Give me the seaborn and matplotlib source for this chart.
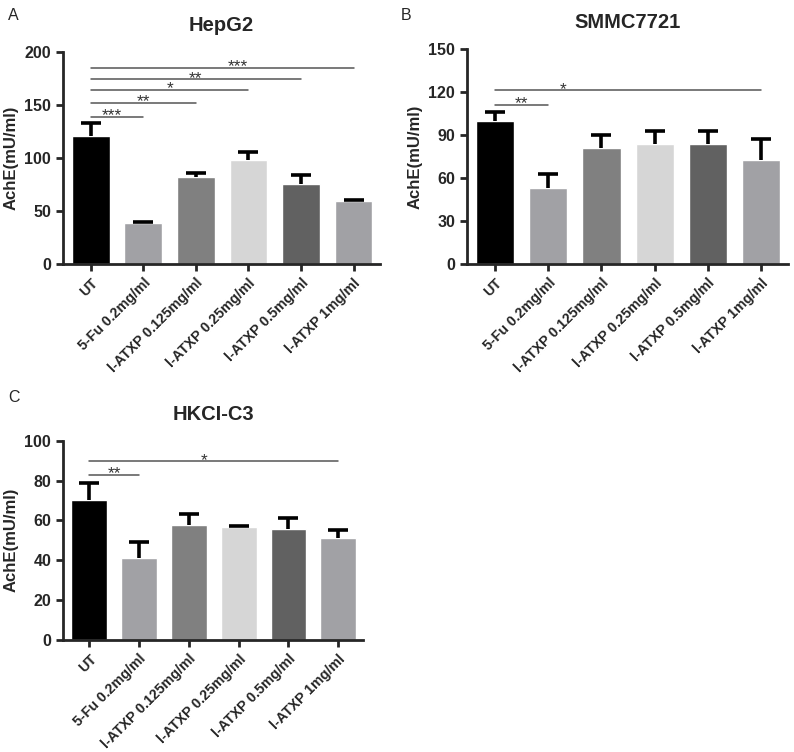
import seaborn as sns
import matplotlib.pyplot as plt
import numpy as np
import pandas as pd

groups = ["UT", "5-Fu 0.2mg/ml", "l-ATXP 0.125mg/ml", "l-ATXP 0.25mg/ml",
          "l-ATXP 0.5mg/ml", "l-ATXP 1mg/ml"]
bar_colors = ["#000000", "#a1a1a5", "#808080", "#d6d6d6", "#616161", "#a1a1a5"]

# HepG2
hepg2_mean = [121, 39, 82, 98, 75, 59.5]
hepg2_err = [12, 1, 3.5, 8, 9, 0.5]
hepg2_sig = [(0, 5, 185, "***", 2.8), (0, 4, 174, "**", 2.0), (0, 3, 164, "*", 1.5),
             (0, 2, 152, "**", 1.0), (0, 1, 139, "***", 0.4)]

# SMMC7721
smmc_mean = [100, 53, 81, 83.5, 84, 72.5]
smmc_err = [6, 10, 9, 9.5, 9, 14.5]
smmc_sig = [(0, 5, 121, "*", 1.27), (0, 1, 111, "**", 0.5)]

# HKCI-C3
hkci_mean = [70, 41, 57.5, 56.5, 55.5, 51]
hkci_err = [9, 8, 5.5, 0.5, 5.5, 4]
hkci_sig = [(0, 5, 89.6, "*", 2.3), (0, 1, 83, "**", 0.5)]

sns.set_style("ticks")
plt.rcParams['font.family'] = ['Liberation Sans', 'DejaVu Sans']


def panel(ax, title, means, errs, sig, ymax, ystep):
    df = pd.DataFrame({"group": groups, "value": means})
    sns.barplot(data=df, x="group", y="value", hue="group", palette=bar_colors,
                saturation=1, width=0.72, legend=False, ax=ax, zorder=2)
    x = np.arange(len(groups))
    eb = ax.errorbar(x, means, yerr=[np.zeros(len(means)), errs], fmt="none",
                     ecolor="black", elinewidth=2.6, capsize=7.5, capthick=2.6, zorder=3)
    # only the upper cap is drawn
    for cap in eb[1]:
        if np.allclose(cap.get_ydata(), means):
            cap.set_visible(False)
    for x1, x2, y, stars, tx in sig:
        ax.plot([x1, x2], [y, y], color="#555555", lw=1.1, zorder=4)
        ax.annotate(stars, (tx, y), xytext=(0, -2.5), textcoords="offset points",
                    ha="center", va="baseline", fontsize=12.5, color="#333333")
    ax.set_ylim(0, ymax)
    ax.set_yticks(np.arange(0, ymax + 1, ystep))
    ax.set_xlim(-0.53, 5.5)
    ax.set_xlabel("")
    ax.set_ylabel("AchE(mU/ml)", fontsize=12, fontweight="bold", labelpad=4)
    ax.set_title(title, fontsize=14.5, fontweight="bold", pad=15)
    sns.despine(ax=ax)
    for s in ["left", "bottom"]:
        ax.spines[s].set_linewidth(2)
    ax.tick_params(axis="both", width=2, length=5, direction="out")
    ax.tick_params(axis="y", labelsize=11.5)
    ax.set_xticks(x)
    ax.set_xticklabels(groups, rotation=45, ha="right", rotation_mode="anchor",
                       fontsize=10.2, fontweight="bold")
    for lbl in ax.get_yticklabels():
        lbl.set_fontweight("bold")


fig = plt.figure(figsize=(7.94, 7.52), dpi=100)
axA = fig.add_axes([0.0793, 0.649, 0.399, 0.282])
axB = fig.add_axes([0.588, 0.649, 0.404, 0.286])
axC = fig.add_axes([0.0793, 0.149, 0.378, 0.265])

panel(axA, "HepG2", hepg2_mean, hepg2_err, hepg2_sig, 200, 50)
panel(axB, "SMMC7721", smmc_mean, smmc_err, smmc_sig, 150, 30)
panel(axC, "HKCI-C3", hkci_mean, hkci_err, hkci_sig, 100, 20)

fig.text(0.010, 0.980, "A", fontsize=11.5, va="center")
fig.text(0.505, 0.980, "B", fontsize=11.5, va="center")
fig.text(0.010, 0.471, "C", fontsize=11.5, va="center")

fig.savefig("out.png", dpi=100)
